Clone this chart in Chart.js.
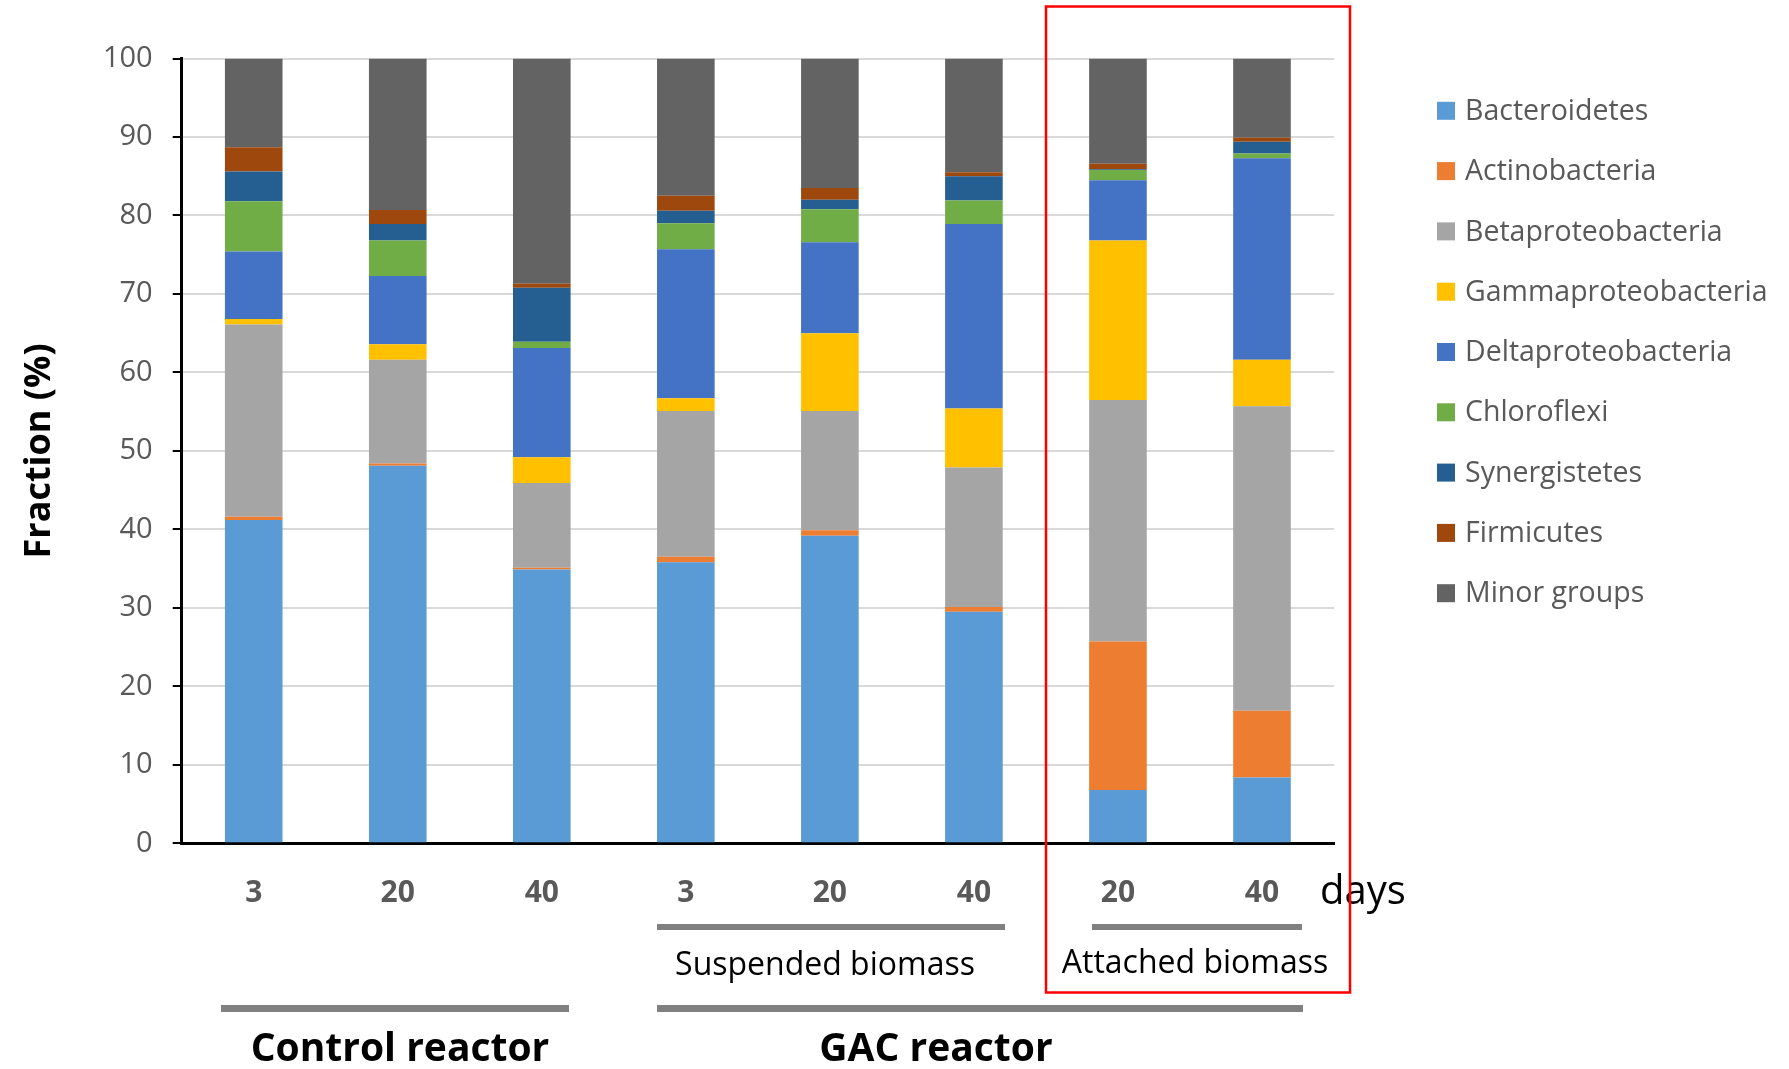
<!DOCTYPE html>
<html>
<head>
<meta charset="utf-8">
<script src="https://cdn.jsdelivr.net/npm/chart.js@4.4.1/dist/chart.umd.min.js"></script>
<style>
  html, body { margin: 0; padding: 0; background: #fff; }
  #wrap { position: relative; width: 1789px; height: 1069px; }
</style>
</head>
<body>
<div id="wrap"><canvas id="c" width="1789" height="1069"></canvas></div>
<script>
// ---- data ----
const categories = ['3', '20', '40', '3', '20', '40', '20', '40'];
const seriesNames = ['Bacteroidetes', 'Actinobacteria', 'Betaproteobacteria', 'Gammaproteobacteria',
  'Deltaproteobacteria', 'Chloroflexi', 'Synergistetes', 'Firmicutes', 'Minor groups'];
const bacteroidetes       = [41.2, 48.1, 34.9, 35.8, 39.2, 29.5, 6.8, 8.4];
const actinobacteria      = [0.4, 0.3, 0.2, 0.7, 0.7, 0.6, 18.9, 8.5];
const betaproteobacteria  = [24.5, 13.2, 10.8, 18.6, 15.2, 17.8, 30.8, 38.8];
const gammaproteobacteria = [0.7, 2.0, 3.3, 1.6, 9.9, 7.5, 20.3, 5.9];
const deltaproteobacteria = [8.6, 8.7, 13.9, 19.0, 11.6, 23.5, 7.7, 25.7];
const chloroflexi         = [6.4, 4.5, 0.8, 3.3, 4.2, 3.0, 1.3, 0.6];
const synergistetes       = [3.8, 2.1, 6.9, 1.6, 1.2, 3.1, 0.1, 1.5];
const firmicutes          = [3.1, 1.8, 0.5, 1.9, 1.5, 0.5, 0.7, 0.5];
const minorGroups         = [11.3, 19.3, 28.7, 17.5, 16.5, 14.5, 13.4, 10.1];
const yTicks = [0, 10, 20, 30, 40, 50, 60, 70, 80, 90, 100];

const seriesValues = [bacteroidetes, actinobacteria, betaproteobacteria, gammaproteobacteria,
  deltaproteobacteria, chloroflexi, synergistetes, firmicutes, minorGroups];
const seriesColors = ['#5B9BD5', '#ED7D31', '#A5A5A5', '#FFC000', '#4472C4', '#70AD47', '#255E91', '#9E480E', '#636363'];

const FONT = "'Open Sans', 'DejaVu Sans', sans-serif";

const annotations = {
  id: 'annotations',
  afterDraw(chart) {
    const ctx = chart.ctx;
    ctx.save();
    // group lines
    ctx.fillStyle = '#808080';
    ctx.fillRect(657, 924, 348, 6);   // suspended
    ctx.fillRect(1092, 924, 210, 6);  // attached
    ctx.fillRect(221, 1005, 348, 7);  // control
    ctx.fillRect(657, 1005, 646, 7);  // GAC
    // texts
    ctx.fillStyle = '#000';
    ctx.textAlign = 'center';
    ctx.textBaseline = 'middle';
    ctx.font = '32px ' + FONT;
    ctx.fillText('Suspended biomass', 825, 966);
    ctx.fillText('Attached biomass', 1195, 964);
    ctx.font = 'bold 39px ' + FONT;
    ctx.fillText('Control reactor', 400, 1050);
    ctx.fillText('GAC reactor', 936, 1050);
    ctx.textAlign = 'left';
    ctx.font = '40px ' + FONT;
    ctx.fillText('days', 1320, 893);
    // red box
    ctx.strokeStyle = '#FF0000';
    ctx.lineWidth = 2.5;
    ctx.strokeRect(1046, 6.5, 304, 986);
    // legend
    ctx.font = '28.5px ' + FONT;
    ctx.textBaseline = 'middle';
    seriesNames.forEach((n, i) => {
      const cy = 110.8 + i * 60.3;
      ctx.fillStyle = seriesColors[i];
      ctx.fillRect(1437, cy - 9, 18, 18);
      ctx.fillStyle = '#595959';
      ctx.fillText(n, 1465, cy + 1);
    });
    ctx.restore();
  }
};

new Chart(document.getElementById('c'), {
  type: 'bar',
  data: {
    labels: categories,
    datasets: seriesNames.map((n, i) => ({
      label: n,
      data: seriesValues[i],
      backgroundColor: seriesColors[i],
      borderWidth: 0,
      barPercentage: 0.4,
      categoryPercentage: 1.0
    }))
  },
  options: {
    responsive: false,
    animation: false,
    devicePixelRatio: 1,
    layout: { padding: { left: 0, right: 455, top: 58.5, bottom: 165.7 } },
    plugins: { legend: { display: false }, tooltip: { enabled: false } },
    scales: {
      x: {
        stacked: true,
        grid: { display: false, drawTicks: false },
        border: { color: '#000', width: 3 },
        ticks: { color: '#595959', font: { family: FONT, size: 30, weight: 'bold' }, padding: 32 },
        afterFit(s) { s.height = 60; }
      },
      y: {
        stacked: true,
        min: 0, max: 100,
        afterBuildTicks(s) { s.ticks = yTicks.map(v => ({ value: v })); },
        grid: { color: '#D9D9D9', lineWidth: 2, tickColor: '#000', tickLength: 9, tickWidth: 2 },
        border: { color: '#000', width: 3 },
        ticks: { color: '#595959', font: { family: FONT, size: 29 }, padding: 20 },
        title: { display: true, text: 'Fraction (%)', color: '#000', font: { family: FONT, size: 36, weight: 'bold' }, padding: { top: 18, bottom: 0 } },
        afterFit(s) { s.width = 181.7; }
      }
    }
  },
  plugins: [annotations]
});
</script>
</body>
</html>
